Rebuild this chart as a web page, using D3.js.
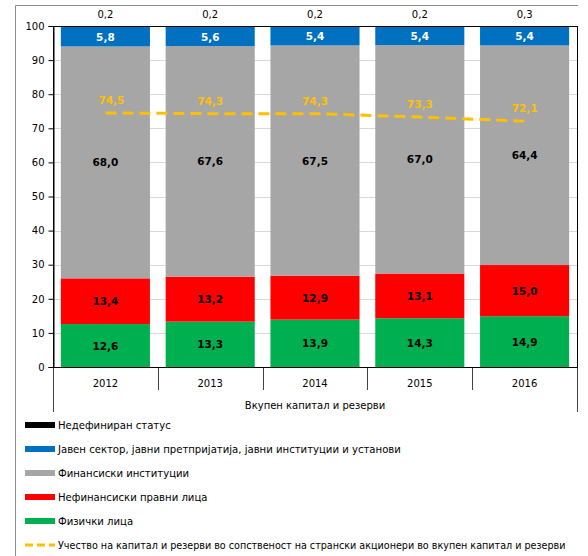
<!DOCTYPE html>
<html><head><meta charset="utf-8">
<script src="https://cdn.jsdelivr.net/npm/d3@7/dist/d3.min.js"></script>
<style>body{margin:0;background:#fff}svg{display:block}</style>
</head><body><svg id="c" width="588" height="556"></svg>
<script>
const years = ["2012","2013","2014","2015","2016"];
const physical = [12.6,13.3,13.9,14.3,14.9];
const nonFinancial = [13.4,13.2,12.9,13.1,15.0];
const financial = [68.0,67.6,67.5,67.0,64.4];
const publicSector = [5.8,5.6,5.4,5.4,5.4];
const undefinedStatus = [0.2,0.2,0.2,0.2,0.3];
const foreignShare = [74.5,74.3,74.3,73.3,72.1];
const yTicks = [0,10,20,30,40,50,60,70,80,90,100];
const axisTitle = "Вкупен капитал и резерви";
const seriesNames = ["Недефиниран статус","Јавен сектор, јавни претпријатија, јавни институции и установи","Финансиски институции","Нефинансиски правни лица","Физички лица","Учество на капитал и резерви во сопственост на странски акционери во вкупен капитал и резерви"];

const series = [
  {name: seriesNames[4], vals: physical, color: "#00B050", label: "#000"},
  {name: seriesNames[3], vals: nonFinancial, color: "#FF0000", label: "#000"},
  {name: seriesNames[2], vals: financial, color: "#A6A6A6", label: "#000"},
  {name: seriesNames[1], vals: publicSector, color: "#0070C0", label: "#fff"},
  {name: seriesNames[0], vals: undefinedStatus, color: "#000000", label: null}
];
const fmt = v => d3.format(".1f")(v).replace(".", ",");
const svg = d3.select("#c");
const font = "DejaVu Sans, Verdana, sans-serif";

const x = d3.scaleBand().domain(years).range([53,577]).paddingInner(0.15).paddingOuter(0.075);
const y = d3.scaleLinear().domain([0,100]).range([367,26]);

// outer frame
svg.append("path").attr("d","M15.5,556 V5.5 H578").attr("fill","none").attr("stroke","#8c8c8c").attr("stroke-width",1);

// gridlines
svg.append("g").selectAll("line").data(yTicks.slice(1,-1)).join("line")
  .attr("x1",53).attr("x2",577).attr("y1",d=>Math.round(y(d))+0.5).attr("y2",d=>Math.round(y(d))+0.5)
  .attr("stroke","#d9d9d9");

// stacked bars
const stackData = years.map((yr,i)=>{const o={year:yr}; series.forEach((s,k)=>o["s"+k]=s.vals[i]); return o;});
const stack = d3.stack().keys(series.map((s,k)=>"s"+k))(stackData);
stack.forEach((layer,k)=>{
  const s = series[k];
  svg.append("g").selectAll("rect").data(layer).join("rect")
    .attr("x",d=>x(d.data.year)).attr("width",x.bandwidth())
    .attr("y",d=>y(Math.min(100,d[1]))).attr("height",d=>Math.max(0,y(d[0])-y(Math.min(100,d[1]))))
    .attr("fill",s.color);
  if (s.label) {
    svg.append("g").selectAll("text").data(layer).join("text")
      .attr("x",d=>x(d.data.year)+x.bandwidth()/2).attr("y",d=>y((d[0]+Math.min(100,d[1]))/2)+4)
      .attr("text-anchor","middle").attr("font-family",font).attr("font-weight","bold").attr("font-size","10.5px")
      .attr("fill",s.label).text((d,i)=>fmt(s.vals[i]));
  }
});
// top labels for undefined status
svg.append("g").selectAll("text").data(undefinedStatus).join("text")
  .attr("x",(d,i)=>x(years[i])+x.bandwidth()/2).attr("y",18)
  .attr("text-anchor","middle").attr("font-family",font).attr("font-size","10px").attr("fill","#000").text(d=>fmt(d));

// plot border
svg.append("rect").attr("x",53.5).attr("y",26.5).attr("width",524).attr("height",341).attr("fill","none").attr("stroke","#000");

// y axis
const yAxis = svg.append("g").attr("transform","translate(53.5,0)")
  .call(d3.axisLeft(y).tickValues(yTicks).tickSize(5).tickFormat(d3.format("d")));
yAxis.select(".domain").attr("stroke","#000");
yAxis.selectAll(".tick line").attr("stroke","#000");
yAxis.selectAll(".tick text").attr("font-family",font).attr("font-size","10px").attr("fill","#000").attr("dx","-1");

// x axis (multi-level)
const xg = svg.append("g");
const bounds = years.map(yr=>x(yr)-x.step()*x.paddingInner()/2).concat([577]);
xg.selectAll("line.t").data(bounds).join("line")
  .attr("x1",d=>Math.round(d)+0.5).attr("x2",d=>Math.round(d)+0.5)
  .attr("y1",367).attr("y2",(d,i)=> (i===0||i===bounds.length-1)?412:390)
  .attr("stroke","#404040");
xg.append("line").attr("x1",53).attr("x2",578).attr("y1",367.5).attr("y2",367.5).attr("stroke","#000");
xg.selectAll("text.c").data(years).join("text")
  .attr("x",d=>x(d)+x.bandwidth()/2).attr("y",387).attr("text-anchor","middle")
  .attr("font-family",font).attr("font-size","10px").attr("fill","#000").text(d=>d);
xg.append("text").attr("x",315).attr("y",409).attr("text-anchor","middle")
  .attr("font-family",font).attr("font-size","10px").attr("fill","#000").text(axisTitle);

// line
const line = d3.line().x((d,i)=>x(years[i])+x.bandwidth()/2).y(d=>y(d));
svg.append("path").datum(foreignShare).attr("d",line).attr("fill","none")
  .attr("stroke","#FFC000").attr("stroke-width",3).attr("stroke-dasharray","11,6");
svg.append("g").selectAll("text").data(foreignShare).join("text")
  .attr("x",(d,i)=>x(years[i])+x.bandwidth()/2+(i===0?6:0)).attr("y",d=>y(d)-9)
  .attr("text-anchor","middle").attr("font-family",font).attr("font-weight","bold").attr("font-size","10.5px")
  .attr("fill","#FFC000").text(d=>fmt(d));

// legend
const legendItems = [
  {name: seriesNames[0], color:"#000000"},
  {name: seriesNames[1], color:"#0070C0"},
  {name: seriesNames[2], color:"#A6A6A6"},
  {name: seriesNames[3], color:"#FF0000"},
  {name: seriesNames[4], color:"#00B050"},
  {name: seriesNames[5], color:"#FFC000", dashed:true}
];
const lg = svg.append("g");
legendItems.forEach((it,i)=>{
  const cy = 425 + i*24;
  if (it.dashed) {
    lg.append("line").attr("x1",25).attr("x2",55).attr("y1",cy).attr("y2",cy)
      .attr("stroke",it.color).attr("stroke-width",3).attr("stroke-dasharray","8,4");
  } else {
    lg.append("rect").attr("x",25).attr("y",cy-3).attr("width",30).attr("height",6).attr("fill",it.color);
  }
  lg.append("text").attr("x",58).attr("y",cy+4).attr("font-family",font)
    .attr("font-size", it.dashed ? "9.6px" : "10.1px")
    .attr("fill","#000").text(it.name);
});
</script></body></html>
